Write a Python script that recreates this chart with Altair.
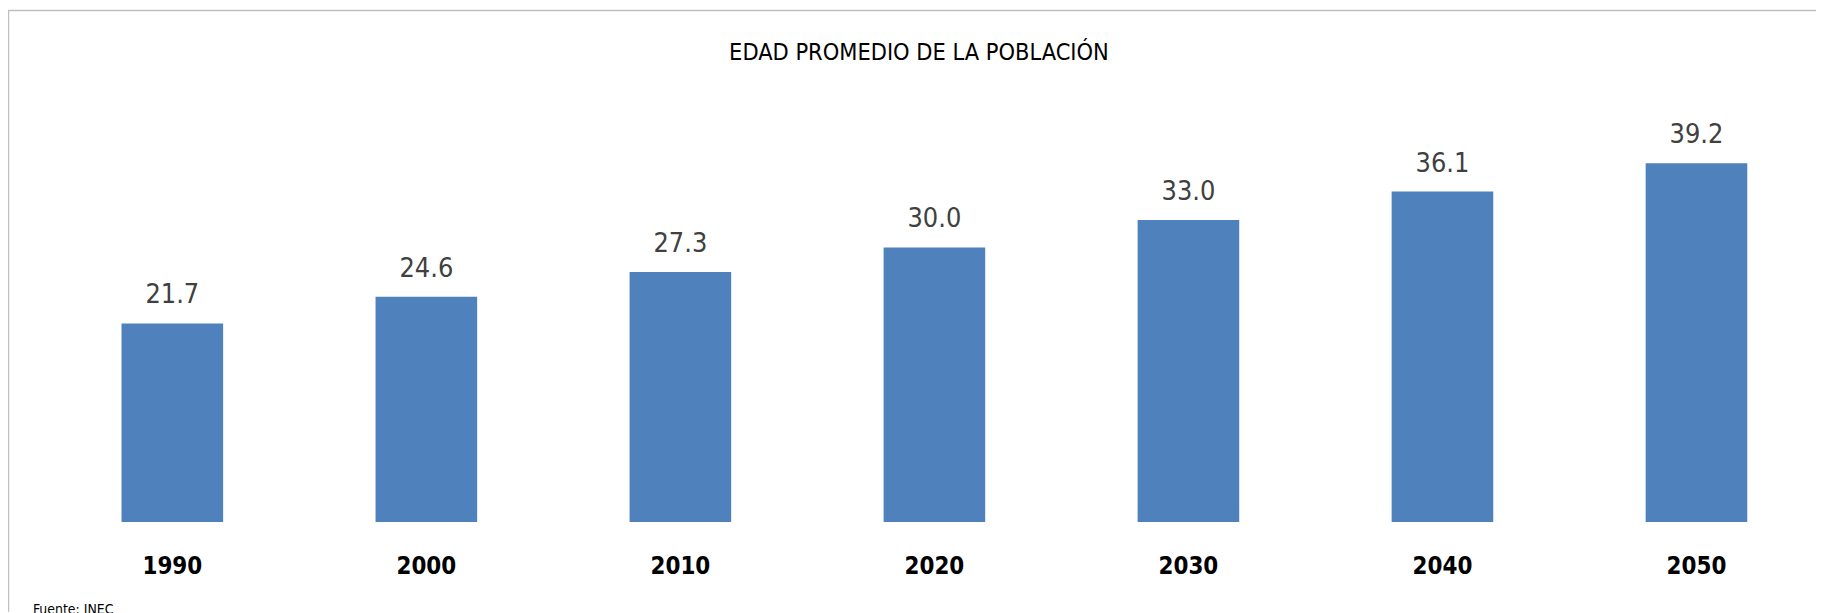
import altair as alt
import pandas as pd

years = ["1990", "2000", "2010", "2020", "2030", "2040", "2050"]
ages = [21.7, 24.6, 27.3, 30.0, 33.0, 36.1, 39.2]
title_text = ["EDAD PROMEDIO DE LA POBLACIÓN"]
source_text = ["Fuente: INEC"]

FONT = "DejaVu Sans Condensed, Liberation Sans Narrow, Roboto Condensed, Lato, sans-serif"
W = 1816
H = 515

df = pd.DataFrame({"year": years, "age": ages})
df["label"] = [f"{v:.1f}" for v in ages]

xscale = alt.Scale(domain=years, range=[63, 1798], paddingInner=0.6, paddingOuter=0.2)
yscale = alt.Scale(domain=[0, 56], nice=False, zero=True)

base = alt.Chart(df).encode(
    x=alt.X("year:N", scale=xscale, sort=years,
            axis=alt.Axis(title=None, orient="bottom", domain=False, ticks=False,
                          labelAngle=0, labelFont=FONT, labelFontSize=24,
                          labelFontWeight="bold", labelColor="#000000",
                          labelBaseline="alphabetic", labelPadding=52, grid=False)),
)

bars = base.mark_bar(color="#4F81BD").encode(
    y=alt.Y("age:Q", scale=yscale, axis=None)
)

labels = base.mark_text(font=FONT, fontSize=27, color="#404040",
                        baseline="alphabetic", dy=-20).encode(
    y=alt.Y("age:Q", scale=yscale, axis=None),
    text="label:N",
)

title = alt.Chart(pd.DataFrame({"t": title_text})).mark_text(
    font=FONT, fontSize=23.5, color="#000000", baseline="alphabetic", align="center"
).encode(text="t:N", x=alt.value(915), y=alt.value(51))

source = alt.Chart(pd.DataFrame({"t": source_text})).mark_text(
    font=FONT, fontSize=14, color="#000000", baseline="top", align="left"
).encode(text="t:N", x=alt.value(25), y=alt.value(596))

frame_top = alt.Chart(pd.DataFrame({"a": [0]})).mark_rule(
    color="#BFBFBF", strokeWidth=1.5
).encode(x=alt.value(0), x2=alt.value(W), y=alt.value(1.2))

frame_left = alt.Chart(pd.DataFrame({"a": [0]})).mark_rule(
    color="#BFBFBF", strokeWidth=1.5
).encode(x=alt.value(0.5), y=alt.value(1), y2=alt.value(605))

chart = alt.layer(frame_top, frame_left, bars, labels, title, source).properties(
    width=W, height=H,
    autosize=alt.AutoSizeParams(type="none"),
    padding={"left": 0, "top": 0, "right": 0, "bottom": 90},
    background="#FFFFFF",
).configure_view(stroke=None)

chart.save("out.html", embed_options={"renderer": "svg", "actions": False})
